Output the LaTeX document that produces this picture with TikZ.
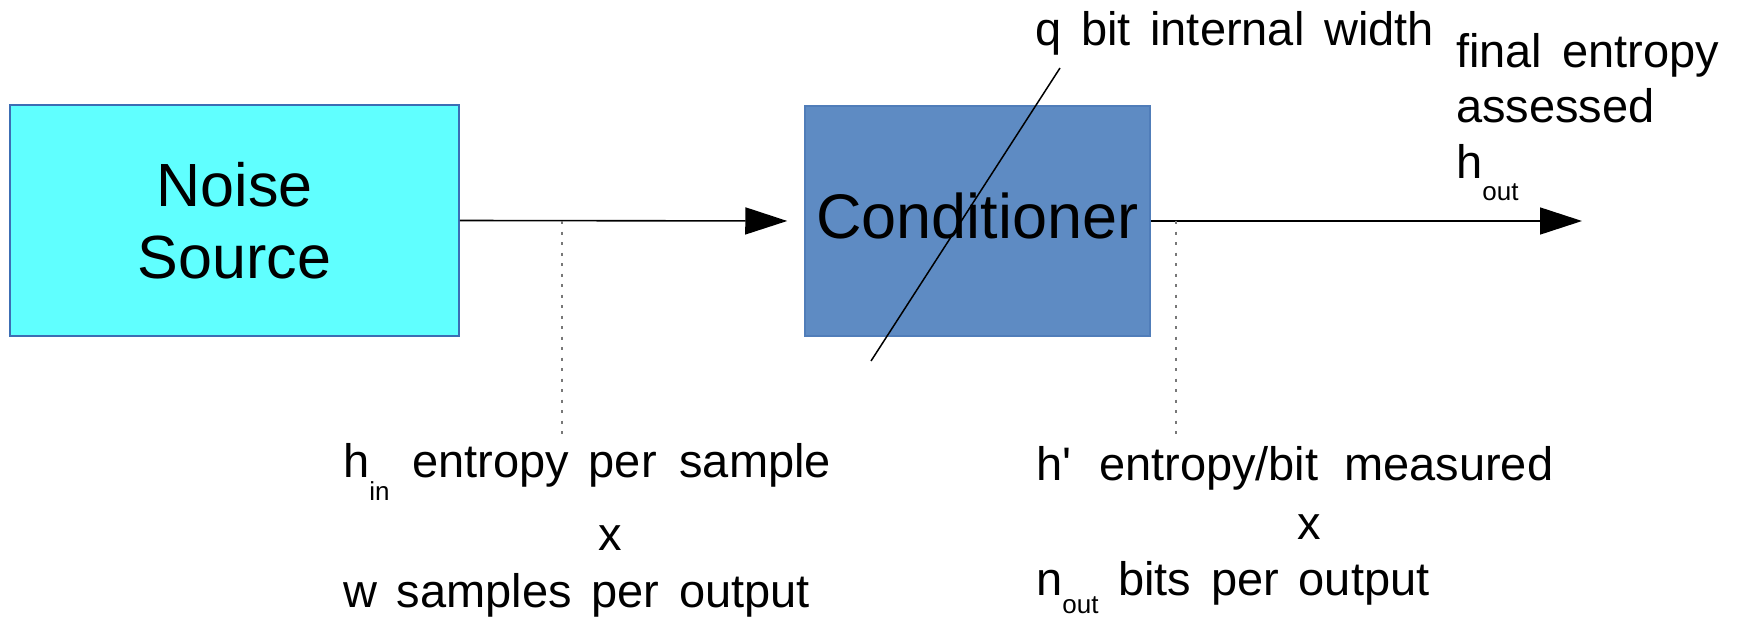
\documentclass[tikz,border=0pt]{standalone}
\usepackage{fontspec}
\setmainfont{Liberation Sans}
\usetikzlibrary{arrows.meta}
\newcommand\fsz[1]{\fontsize{#1}{#1}\selectfont}
\newcommand\lowsub[2][22pt]{\raisebox{-#1}{\fsz{26}#2}}
\definecolor{noisefill}{RGB}{96,255,255}
\definecolor{noisedraw}{RGB}{60,110,180}
\definecolor{condfill}{RGB}{94,139,195}
\definecolor{conddraw}{RGB}{80,125,185}
\definecolor{dotgray}{RGB}{120,120,120}
\begin{document}
\begin{tikzpicture}[x=1pt,y=-1pt,
  box/.style={draw, line width=1.5pt, inner sep=0pt},
  flow/.style={line width=1.6pt, -{Triangle[length=42pt,width=27pt]}},
  tap/.style={dotgray, line width=1.6pt, dash pattern=on 3pt off 7.5pt},
  lbl/.style={font={\fsz{47}\spaceskip=0.42em\relax}, inner sep=0pt, anchor=base west},
  mid/.style={font={\fsz{47}}, inner sep=0pt, anchor=base}
]
\useasboundingbox (0,0) rectangle (1741,618);

% blocks
\node[box, draw=noisedraw, fill=noisefill, minimum width=449pt, minimum height=231pt,
      align=center, font={\fontsize{61}{72}\selectfont}] (noise) at (234.5,220.5) {Noise\\Source};
\node[box, draw=conddraw, fill=condfill, minimum width=345pt, minimum height=230pt,
      font={\fsz{63}}, text height=46pt, text depth=12pt] (cond) at (977.5,221) {Conditioner};

% coordinates
\coordinate (out) at (1582,221);
\coordinate (d1top) at (562,221);
\coordinate (d1bot) at (562,438);
\coordinate (d2top) at (1176,221);
\coordinate (d2bot) at (1176,438);
\coordinate (s1) at (1060,68);
\coordinate (s2) at (871,361);

% connectors
\draw[flow, shorten >=17pt] (noise.east) -- (cond.west);
\draw[flow] (cond.east) -- (out);
\draw[tap] (d1top) -- (d1bot);
\draw[tap] (d2top) -- (d2bot);
\draw[line width=1.5pt] (s1) -- (s2);

% labels
\node[lbl] (qbit) at (1035,46) {q bit internal width};
\node[lbl] (fe1) at (1456,67) {final entropy};
\node[lbl] (fe2) at (1456,122) {assessed};
\node[lbl] (fe3) at (1456,178) {h\lowsub{out}};

\node[lbl] (hin) at (343,477) {h\lowsub[23pt]{in}\hspace{3pt} entropy per\hspace{3pt} sample};
\node[mid] (x1) at (610,550) {x};
\node[lbl] (wsam) at (343,607) {w samples per output};

\node[lbl] (hp) at (1036,480) {h\textquotesingle\hspace{8pt} entropy/bit\hspace{6pt} measured};
\node[mid] (x2) at (1309,539) {x};
\node[lbl] (nout) at (1036,595) {n\lowsub[18pt]{out} bits per output};
\end{tikzpicture}
\end{document}
